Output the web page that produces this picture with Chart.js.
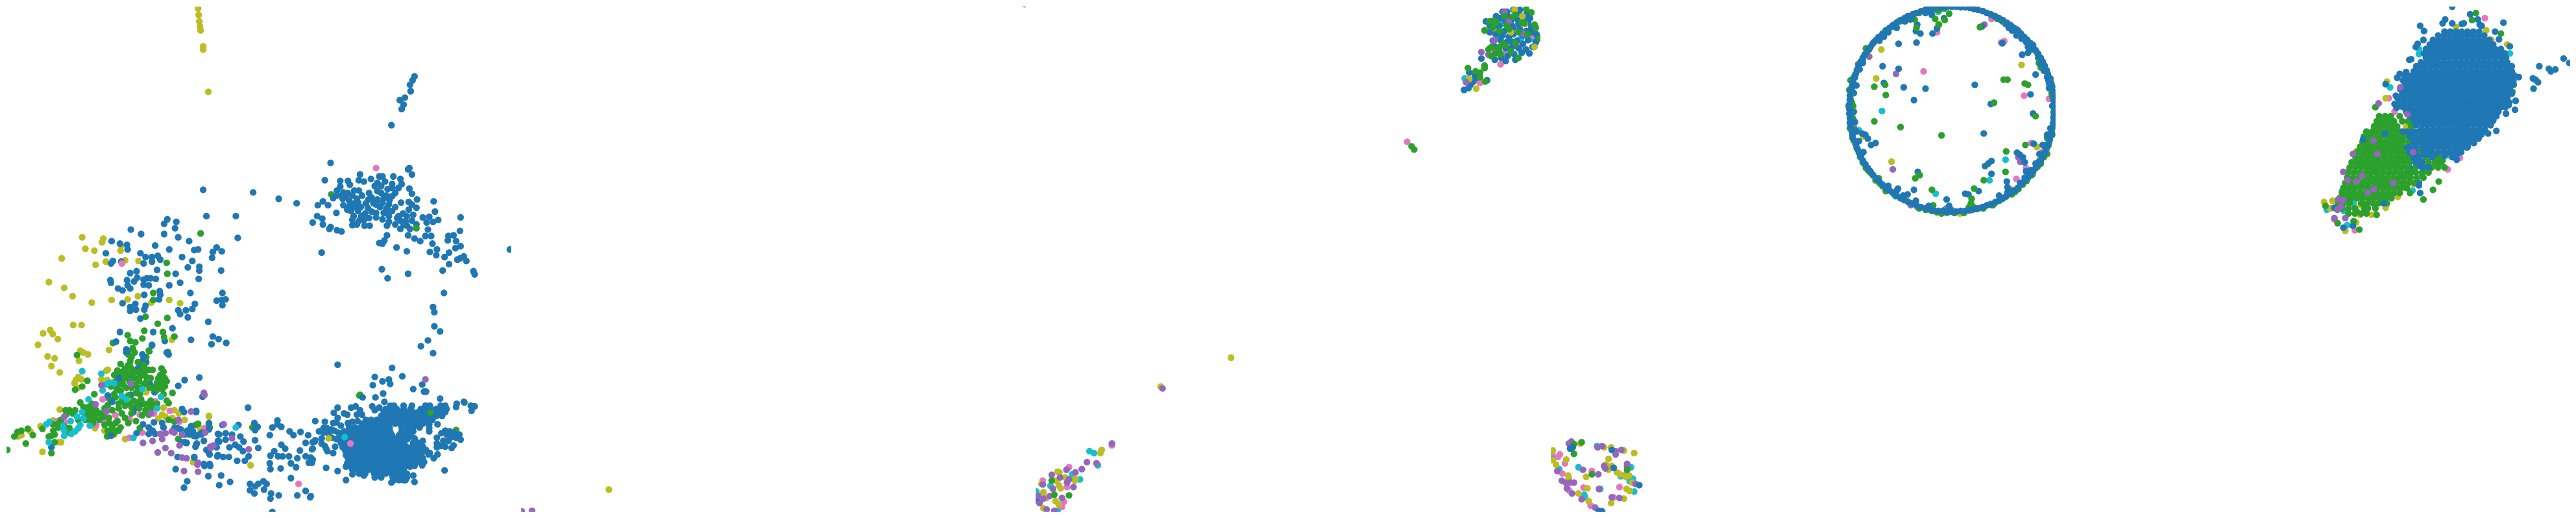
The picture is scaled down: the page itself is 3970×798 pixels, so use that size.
<!DOCTYPE html>
<html>
<head>
<meta charset="utf-8">
<title>Scatter panels</title>
<script src="https://cdn.jsdelivr.net/npm/chart.js@4"></script>
<style>
  html, body { margin: 0; padding: 0; background: #fff; width: 3970px; height: 798px; overflow: hidden; }
  canvas { position: absolute; top: 5px; }
</style>
</head>
<body>
<script>
// values, as flat x,y lists in the shared embedding units

// panel 1
const purple1 = [95,645,144,626,153,596,199,594,161,637,293,637,313,608,273,650,218,686,233,683,248,680,245,672,253,671,263,668,267,670,279,673,253,694,275,690,241,701,262,702,279,709,286,710,315,670,323,692,304,717,230,640,303,720,304,731,282,730,659,587,314,611,344,657,383,696,357,679,324,694,328,690]
const cyan1 = [123,574,133,618,71,685,153,578,160,595,165,592,155,604,173,593,185,613,192,618,217,602,246,614,240,632,67,657,72,653,95,667,95,675,93,660,106,672,112,668,117,663,120,658,105,652,115,645,125,648,123,638,135,659,203,678,363,662,533,677]
const pinkLow1 = [185,406,542,687]
const oliveLow1 = [508,679]
const greenLow1 = [667,639,645,351]
const blue1 = [642,114,639,120,635,127,636,137,627,147,619,151,625,158,622,165,606,190,
511,249,634,257,632,259,638,267,557,267,502,276,526,277,538,277,555,276,563,278,574,274,587,270,592,270,609,270,620,274,607,282,622,282,541,283,526,286,584,280,634,289,521,292,531,295,538,296,555,292,571,296,584,293,607,288,617,288,638,297,535,301,515,304,570,306,584,306,594,304,607,301,646,306,633,310,621,311,499,309,491,315,507,315,531,315,541,316,554,311,569,319,582,314,592,311,602,314,638,314,672,309,645,319,520,327,543,324,554,324,582,327,594,327,607,324,674,325,490,332,547,332,559,332,582,334,592,337,602,332,617,332,630,332,655,334,665,333,714,334,498,336,679,338,556,339,620,339,638,339,483,342,602,341,661,342,671,341,499,345,545,346,564,347,572,347,630,347,599,347,511,349,509,352,620,352,635,352,521,354,528,356,663,353,713,355,599,362,632,362,659,363,668,363,695,363,703,362,642,367,651,371,595,370,694,370,707,371,587,374,592,375,670,375,614,381,714,379,677,384,706,382,630,387,666,388,696,389,497,389,676,393,689,396,719,395,713,398,709,400,723,402,696,407,686,417,591,415,632,422,600,429,734,418,736,423,791,384,
545,300,552,305,560,300,566,312,575,303,578,312,590,296,598,300,588,318,598,320,575,325,565,328,550,318,540,308,548,312,558,318,530,305,537,322,545,338,552,345,563,338,571,335,603,325,612,318,615,335,624,328,628,340,640,330,633,322,612,345,645,345,625,345,590,285,600,290,580,285,596,278,612,296,528,300,520,300,548,292,603,307,
688,452,671,474,673,482,673,504,682,512,663,526,652,535,671,546,522,564,607,569,
312,291,390,295,430,305,458,312,317,332,363,332,366,366,256,337,251,344,270,341,268,351,199,353,215,360,251,360,273,365,290,371,169,371,182,375,193,377,194,384,237,378,259,384,298,385,304,384,333,381,327,388,341,387,160,390,214,390,222,396,232,396,241,394,245,400,279,396,295,402,326,397,171,402,168,406,184,403,219,406,232,403,306,411,288,412,306,417,340,417,240,416,208,418,198,421,269,422,209,428,224,429,305,430,167,432,193,432,204,434,219,431,230,429,238,430,168,436,276,436,194,440,219,439,227,440,259,440,179,445,186,448,198,445,244,449,292,452,342,452,220,455,245,455,243,462,333,464,341,463,347,462,299,469,342,471,186,468,206,469,222,472,220,478,198,474,207,478,198,480,273,479,285,479,295,477,276,485,288,490,214,492,320,497,264,507,182,513,234,513,327,520,293,525,336,524,325,532,348,530,176,528,232,534,258,548,255,545,193,543,219,551,
283,588,273,597,306,584,311,614,301,636,279,633,282,638,321,655,163,612,170,622,180,585,235,654,248,655,218,657,227,662,233,667,237,672,227,672,208,671,250,662,267,663,272,663,277,665,287,667,293,660,290,673,297,675,305,673,310,670,313,683,302,687,300,692,283,685,278,685,286,686,335,672,335,683,333,693,317,697,322,704,335,705,272,708,298,708,313,719,322,719,75,693,168,675,
382,631,301,638,321,656,321,665,342,658,367,658,392,655,397,661,393,666,428,651,428,657,420,662,434,661,447,668,453,674,464,669,476,674,416,674,486,684,472,686,482,696,393,682,370,676,375,684,357,673,347,671,337,673,337,684,347,681,362,689,353,693,368,693,398,694,374,699,434,689,440,695,423,699,417,706,429,707,436,707,446,707,459,710,463,698,472,707,480,709,477,717,449,718,457,724,416,718,417,727,433,726,321,702,334,707,343,708,352,708,365,714,377,714,383,707,449,741,406,746,411,750,398,750,385,750,393,754,385,760,392,765,407,759,418,765,430,768,417,773,459,768,472,761,479,771,420,794,269,727,287,746,282,756,320,738,340,737,337,752,354,747,314,722,323,722,298,709,301,689,286,686,301,676,309,673,296,668,283,673,
580,583,592,590,602,587,604,594,577,596,623,582,654,595,640,602,657,606,660,606,593,609,581,615,561,615,682,617,595,622,522,631,543,631,550,629,576,629,587,631,557,635,516,639,532,640,537,642,552,642,560,642,580,635,522,647,487,652,502,653,515,655,520,654,538,655,545,653,553,652,527,659,493,668,500,663,505,663,512,665,517,667,500,670,508,672,497,679,487,682,483,685,497,687,502,691,504,695,483,695,506,699,515,702,518,692,520,680,513,678,483,712,482,717,504,725,522,730,535,723,535,744,545,735,563,737,555,733,537,718,535,705,530,693,527,682,523,670,480,769,
604,628,610,628,625,628,638,628,659,628,666,628,683,628,690,628,597,633,606,633,614,633,625,633,636,633,652,633,660,633,667,633,676,633,684,633,691,633,594,638,603,638,612,638,621,638,630,638,640,638,648,638,657,638,665,638,673,638,682,638,690,638,590,644,598,644,607,644,616,644,625,644,634,644,643,644,651,644,660,644,668,644,676,644,685,644,
566,650,574,650,583,650,592,650,600,650,610,650,619,650,627,650,636,650,645,650,654,650,662,650,670,650,560,656,568,656,577,656,586,656,594,656,603,656,612,656,620,656,629,656,638,656,646,656,655,656,664,656,
540,662,549,662,558,662,567,662,576,662,585,662,594,662,603,662,622,662,631,662,640,662,650,662,532,668,541,668,550,668,559,668,568,668,577,668,586,668,595,668,604,668,622,668,631,668,640,668,526,674,535,674,544,674,553,674,562,674,571,674,580,674,589,674,598,674,607,674,618,674,627,674,636,674,532,680,541,680,550,680,559,680,568,680,577,680,586,680,595,680,604,680,613,680,622,680,631,680,642,680,527,686,536,686,545,686,554,686,563,686,572,686,581,686,590,686,599,686,608,686,617,686,626,686,640,686,648,686,
530,692,539,692,548,692,557,692,566,692,575,692,584,692,593,692,602,692,611,692,620,692,629,692,638,692,647,692,655,692,534,698,543,698,552,698,561,698,570,698,579,698,588,698,597,698,606,698,615,698,624,698,633,698,642,698,651,698,660,698,536,704,545,704,554,704,563,704,572,704,581,704,590,704,599,704,608,704,617,704,626,704,635,704,644,704,653,704,664,704,538,710,547,710,556,710,565,710,574,710,583,710,592,710,601,710,610,710,619,710,628,710,637,710,646,710,655,710,541,716,550,716,559,716,568,716,577,716,586,716,595,716,604,716,613,716,622,716,631,716,640,716,649,716,657,716,
540,722,549,722,558,722,567,722,576,722,585,722,594,722,603,722,612,722,621,722,630,722,545,728,553,728,562,728,571,728,580,728,589,728,598,728,607,728,616,728,625,728,556,734,565,734,579,734,588,734,597,734,606,734,615,734,624,734,630,734,580,740,590,740,608,740,618,740,627,740,630,740,610,744,618,744,625,744,628,744,
606,748,642,747,640,737,635,723,642,722,654,721,689,729,672,710,678,704,666,702,660,697,655,683,642,679,633,670,
678,657,665,657,665,668,665,663,684,671,690,667,697,668,703,670,712,673,693,673,700,677,707,678,714,681,677,678,687,683,695,683,703,690,700,694,690,692,683,691,677,693,677,687,708,625,707,630,719,622,730,628,736,629,731,636,692,633]
const green1 = [200,552,198,558,197,563,183,563,190,570,200,570,178,573,185,575,193,577,173,580,182,582,190,585,205,585,213,583,220,577,227,572,233,572,218,570,223,552,227,542,202,538,223,583,230,585,250,575,245,580,242,585,255,590,252,598,245,597,238,598,233,600,248,602,240,603,264,608,187,595,180,595,192,600,177,603,183,605,173,610,210,600,207,608,213,610,200,600,203,620,208,623,197,625,230,620,227,625,235,628,258,624,163,627,158,632,180,632,185,640,142,610,131,589,123,598,112,603,120,623,
195,565,205,575,212,590,220,595,197,590,205,595,175,590,168,598,185,590,215,600,222,592,228,600,240,592,247,590,252,585,247,570,190,578,198,578,175,615,185,620,195,612,180,625,170,635,190,628,215,618,220,625,212,632,222,635,230,632,240,625,200,640,195,655,175,655,180,667,172,672,165,655,150,650,128,640,125,630,138,625,145,635,152,640,128,650,140,655,98,642,108,640,90,650,78,657,95,660,75,675,250,610,255,620,200,630,165,617,205,545,195,548,210,560,220,565,212,575,
97,635,103,635,112,635,100,638,127,632,133,630,140,633,132,638,138,640,147,640,133,645,142,648,135,652,157,645,165,647,117,650,87,655,86,662,78,667,80,673,71,676,61,664,103,663,102,670,158,658,170,660,170,665,177,667,163,667,183,662,178,652,190,647,207,652,217,643,227,642,258,650,267,653,300,658,304,656,213,663,273,680,322,662,162,676,80,685,75,702,35,687,46,674,38,664,28,667,22,669,17,676,6,697,
255,405,256,422,234,452,234,463,222,489,256,491,241,500,220,511,249,513,194,518,251,521,217,523,267,520,171,530,198,527,206,529,202,540,228,543,257,544,115,549,
512,298,308,359,557,611,720,623,707,666,556,612,389,662]
const blueTop1 = [213,563,217,558,223,560,210,570,208,575,213,567,192,540,192,545,217,548,232,533,252,527,257,547,229,594,236,607,199,611,202,633,203,638,213,627,198,580,178,597,205,632]
const pink1 = [77,657,96,654,85,652,155,618,163,633,175,643,197,649,145,658,157,653,197,678,237,621,260,636,217,670,275,653,315,663,213,642,235,640,582,257,461,750,692,679]
const olive1 = [123,365,156,367,154,373,184,378,128,383,142,386,183,386,91,398,190,401,160,403,211,402,144,408,71,435,95,444,108,457,138,467,169,463,194,462,210,457,259,463,276,468,231,467,109,502,122,502,73,510,77,516,62,515,85,524,54,533,263,525,165,541,120,542,125,545,132,548,69,551,80,554,75,566,118,558,88,576,
304,8,305,18,306,28,307,36,308,42,312,67,312,72,320,138,
117,583,122,587,113,588,111,593,116,600,153,587,162,588,163,572,161,573,169,592,223,607,223,633,242,648,253,645,248,642,264,647,274,640,283,650,321,644,143,663,158,667,163,672,173,673,190,680,267,635,296,716,250,631,307,663,23,676,28,674,42,668,58,660,87,685,90,685,61,700,88,634,78,651,321,645,386,721]

// panel 2
const purple2 = [799,793,815,792]
const olive2 = [935,759]
const blue2 = [1584,1]

// panel 3
const green3 = [2292,42,2306,27,2302,82,2317,80,2357,9,2365,14,2323,20,2335,21,2327,35,2354,31,2370,33,2372,38,2359,48,2320,63,2313,70,2333,75,2303,68,2378,55,2315,43,2292,97,2292,101,2266,101,2278,106,2285,108,2285,115,2293,122,2178,223,2182,228,1616,745,1620,767,1643,768,
2345,45,2330,40,2310,30,2300,28,2340,18,2350,30,2315,75,2325,65,2340,62,2345,85,2310,78,2298,72,2305,38]
const blue3 = [2294,28,2300,35,2308,35,2320,13,2327,13,2337,10,2347,10,2357,17,2317,23,2333,27,2343,25,2353,23,2363,23,2323,43,2320,50,2317,57,2327,60,2337,38,2347,40,2337,48,2357,43,2360,57,2352,63,2367,68,2357,72,2350,77,2338,79,2328,82,2318,85,2308,88,2307,67,2373,48,2287,86,2296,120,2268,108,2277,112,2280,113,2270,127,2267,132,2260,135,2273,123,2278,117,1593,776,
2310,20,2315,35,2325,28,2335,35,2345,32,2352,50,2343,58,2335,60,2330,52,2325,70,2335,68,2345,70,2365,38,2360,30,2345,15,2328,20,2310,48,2305,58,2315,68,2325,90,2340,88,2365,45,2372,60,2375,52,2362,78,2300,45]
const purple3 = [2287,76,2298,80,2308,76,2307,58,2330,28,2352,47,2323,13,2263,123,1789,601,1710,687,1671,716,1686,718,1663,727,1639,728,1653,732,1616,736,1643,743,1640,748,1629,740,1602,751,1650,755,1618,758,1613,769,1632,772,1595,769,1597,780,1608,790,1620,792,1603,773]
const olive3 = [2339,10,2351,20,2333,45,2355,32,2301,69,2370,68,2268,118,2279,133,1786,598,1896,553,1692,702,1694,697,1625,731,1628,732,1653,742,1652,745,1623,745,1637,740,1627,752,1630,757,1600,750,1603,763,1608,772,1622,777,1627,782,1603,788]
const pink3 = [2323,79,2341,64,2317,95,2348,68,2372,61,2368,50,2307,47,2277,121,2285,124,2171,216,1710,690,1643,724,1602,745,1640,755,1635,778,1632,786]
const cyan3 = [2319,32,2349,54,2313,52,2365,55,2261,117,1675,699,1682,702,1688,721,1648,735,1660,743,1614,753,1592,762,1625,792]

// panel 4
const green4 = [2433,685,2421,688,2421,703,2449,735,2504,728,
2995,206,2931,193,2890,184,2908,143,2907,127,2890,130,3092,119,3098,119,3125,125,3130,127,3077,155,3142,176,3126,221,3096,231,3095,263,3061,276,3046,289,2980,291,2954,273,2961,268,2982,315,3055,37,2956,38,2985,24,3000,26,3007,16,2991,33,3115,43,3147,93,3143,75,3042,305,3041,312,3038,318,3035,323,3138,263,3137,267,3160,210,3163,217,3115,290,3090,305,3073,315,2860,198,
2855,132,2853,143,2855,155,2852,168,2858,169,2852,187,2878,77,2875,80,2860,112,2872,248,2877,257,2888,268,2897,273,2903,285,2960,15,2967,12,2987,10,2992,10,2953,25,2938,25,3045,8,3073,18,3150,87,3153,92,3165,118,3168,145,2988,326,3043,322,3128,277,
2858,125,2857,160,2857,180,2870,235,2880,260,2885,265,2908,293,2877,70,2872,88,2865,95,2855,165,2960,320,2995,328,3030,327,3045,318,3085,308,3105,298,3130,272,3150,250,3160,235,3167,140,3150,100,3140,72,3090,28,3040,5,3000,8,2975,8,2950,20,2930,28,
2853,120,2851,135,2853,150,2850,160,2853,175,2852,195,2856,210,2864,228,2868,240,2874,250,2882,262,2892,276,2900,282,2912,292,2922,298,2935,305,2948,312,2970,322,2980,324,3000,326,3015,327,3050,321,3060,320,3078,312,3095,302,3110,294,3122,282,3135,268,3145,255,3155,240,3162,222,3168,205,3170,170,3171,150,3168,130,3160,108,3155,98,3145,78,3125,55,3100,36,3082,24,3060,12,2982,8,2945,22,2920,36,2905,48,2890,60,2882,72,2868,92]
const blue4 = [2415,695,2419,693,2483,725,2523,752,2460,792,2465,793,2480,697,
3011,5,3018,5,3025,6,3032,6,3039,7,3046,9,3052,10,3059,12,3066,15,3072,17,3079,20,3085,23,3091,26,3097,30,3103,34,3108,38,3114,42,3119,47,3124,52,3129,57,3134,62,3138,68,3142,73,3146,79,3150,85,3153,91,3156,97,3159,104,3161,110,3164,117,3166,124,3167,130,3169,137,3170,144,3170,151,3171,158,3171,165,
3171,172,3170,179,3170,186,3169,193,3167,200,3166,206,3164,213,3161,220,3159,226,3156,233,3153,239,3150,245,3146,251,3142,257,3138,262,3134,268,3129,273,3124,278,3119,283,3114,288,3108,292,3103,296,3097,300,3091,304,3085,307,3079,310,3072,313,3066,315,3059,318,3052,320,3046,321,3039,323,3032,324,3025,324,3018,325,3011,325,
3004,325,2997,324,2990,324,2983,323,2976,321,2970,320,2963,318,2956,315,2950,313,2943,310,2937,307,2931,304,2925,300,2919,296,2914,292,2908,288,2903,283,2898,278,2893,273,2888,268,2884,262,2880,257,2876,251,2872,245,2869,239,2866,233,2863,226,2861,220,2858,213,2856,206,2855,200,2853,193,2852,186,2852,179,2851,172,2851,165,
2851,158,2852,151,2852,144,2853,137,2855,130,2856,124,2858,117,2861,110,2863,104,2866,97,2869,91,2872,85,2876,79,2880,73,2884,68,2888,62,2893,57,2898,52,2903,47,2908,42,2914,38,2919,34,2925,30,2931,26,2937,23,2943,20,2950,17,2956,15,2963,12,2970,10,2976,9,2983,7,2990,6,2997,6,3004,5,
3088,26,3100,38,3112,50,3120,55,3127,60,3135,72,3150,95,3155,105,3160,115,3163,125,3160,205,3155,222,3148,235,3142,250,3135,260,3130,270,3125,272,3118,280,3105,293,3098,295,3085,300,2912,285,2925,292,2935,300,2955,308,2975,316,2872,93,2867,103,2860,115,2862,128,2857,170,2860,185,2862,200,2866,215,2873,232,2898,58,2905,52,2912,45,2925,38,2938,28,2946,25,2970,15,2978,13]
const blueInner4 = [2928,63,2956,61,2903,98,2928,102,2905,124,2936,131,2970,133,2952,151,3047,127,3072,157,3061,203,3142,111,3134,142,3138,172,3121,80,3130,77,3090,62,2880,211,2876,205,2871,203,2885,221,2892,218,2958,263,2927,289,2952,291,3003,306,3007,316,3032,297,3037,298,3053,293,3063,254,3068,250,3073,246,3073,266,3097,278,3098,287,2942,298,3113,233,3117,236,3122,240,3125,248,3127,262,3139,219,3153,221,3148,246,3163,212,2957,33,2955,43,2962,47,2980,18,2999,23,2988,39,2981,47,3058,36,3130,68,3138,65,3105,42,3163,132,2858,140,2852,150,2853,180,2863,104,3095,32,3112,44,3135,65,3146,85,3162,120,3168,160,3165,195,3015,325,3075,315]
const purple4 = [2413,687,2417,684,2458,693,2465,691,2495,697,2486,699,2486,704,2468,722,2470,726,2504,719,2504,723,2435,728,2459,735,2395,730,2402,745,2408,748,2415,748,2421,748,2410,757,2418,765,2433,774,2460,758,2480,771,2492,772,2454,787,2517,750,
2924,110,2919,259,2896,53,2882,83,2942,20,3062,33,3078,21,3167,127,2868,238,2882,262,3118,247,3115,240,2858,193,3170,177,3003,320,3010,322,2947,315]
const olive4 = [2431,687,2468,693,2479,693,2499,698,2515,702,2475,711,2480,722,2475,728,2440,739,2409,712,2388,698,2388,713,2393,720,2412,737,2413,742,2428,765,2442,757,2444,777,2479,780,2499,773,2503,758,2508,761,2488,732,2493,735,2502,739,2507,737,2512,748,2471,720,
2901,72,2893,117,3120,96,2917,247,3144,224,2886,65,2890,60,2927,28,2856,123,2856,207,2858,215,2862,225,2873,208,2896,279,2940,306,2973,322,3017,326,3024,328,3103,290,3122,283,3150,242,2990,32,3113,45]
const pink4 = [2387,702,2399,704,2396,708,2407,718,2403,734,2449,730,2436,756,2413,760,2492,755,2447,784,2503,734,2483,771,
2967,106,3088,61,3093,59,3124,144,3112,274,3135,218,3159,228,3152,232,3155,238,3127,257,2970,10,3073,24,3058,319,2988,45,3167,145,3163,149,3112,40,2957,318]
const cyan4 = [2428,724,2457,691,2462,758,2437,767,2438,771,2510,724,2494,738,2513,742,2508,746,2515,762,2398,727,2387,707,
2902,168,3095,244,3070,276,2986,297,2866,198,2857,211,2923,301,3004,327,3063,317,3132,62,2922,33,2865,100,2858,115,2990,13,3165,117,3169,187,3000,322]

// panel 5
const purple5 = [3659,214,3627,235,3612,263,3641,269,3632,278,3619,276,3604,306,3612,307,3608,317,3603,322,3615,335,3598,335,3660,290,3721,232,3701,131,3667,156,3712,173,3650,295,3690,280,3665,235]
const blue5 = [3782,5,3810,17,3771,25,3767,31,3782,31,3797,32,3800,31,3822,25,3825,33,3828,35,3862,30,3732,35,3738,43,3849,44,3737,57,3855,56,3728,63,3725,68,3715,88,3718,87,3726,98,3872,67,3875,98,3918,98,3933,102,3936,106,3943,103,3956,86,3965,93,3908,117,3912,119,3916,123,3909,133,3886,115,3878,112,3881,152,3880,166,3870,159,3866,172,3851,199,3838,203,3824,208,3789,244,3806,224,3730,284,3732,296,3675,312,3710,107,3700,110,3696,116,3678,126,3694,144,3692,157,3695,163,3643,212,3598,319,
3732,253,3738,237,3627,347,3612,350,3677,203,3747,237,
3705,200,3712,200,3722,200,3730,200,3716,208,3724,208,3735,208,3722,216,3730,216,3738,216,3715,224,3725,224,3735,224,3745,224,3715,232,3725,232,3738,232,3750,232,3722,240,3730,240,3750,240,3725,248,3735,248,3735,256,3745,256,3755,235,3790,235,3745,228,3782,240,3770,238,
3770,44,3779,44,3788,44,3797,44,3806,44,3815,44,3824,44,3760,50,3769,50,3778,50,3787,50,3796,50,3805,50,3814,50,3823,50,3832,50,
3752,57,3761,57,3770,57,3779,57,3788,57,3797,57,3806,57,3815,57,3824,57,3833,57,3840,57,3747,64,3756,64,3765,64,3774,64,3783,64,3792,64,3801,64,3810,64,3819,64,3828,64,3837,64,3846,64,
3741,71,3750,71,3759,71,3768,71,3777,71,3786,71,3795,71,3804,71,3813,71,3822,71,3831,71,3840,71,3849,71,3858,71,3738,78,3747,78,3756,78,3765,78,3774,78,3783,78,3792,78,3801,78,3810,78,3819,78,3828,78,3837,78,3846,78,3855,78,3864,78,
3741,85,3750,85,3759,85,3768,85,3777,85,3786,85,3795,85,3804,85,3813,85,3822,85,3831,85,3840,85,3849,85,3858,85,3866,85,3733,92,3742,92,3751,92,3760,92,3769,92,3778,92,3787,92,3796,92,3805,92,3814,92,3823,92,3832,92,3841,92,3850,92,3859,92,3868,92,
3730,99,3739,99,3748,99,3757,99,3766,99,3775,99,3784,99,3793,99,3802,99,3811,99,3820,99,3829,99,3838,99,3847,99,3856,99,3865,99,3872,99,3722,106,3731,106,3740,106,3749,106,3758,106,3767,106,3776,106,3785,106,3794,106,3803,106,3812,106,3821,106,3830,106,3839,106,3848,106,3857,106,3866,106,3875,106,
3708,113,3717,113,3726,113,3735,113,3744,113,3753,113,3762,113,3771,113,3780,113,3789,113,3798,113,3807,113,3816,113,3825,113,3834,113,3843,113,3852,113,3861,113,3870,113,3879,113,3705,120,3714,120,3723,120,3732,120,3741,120,3750,120,3759,120,3768,120,3777,120,3786,120,3795,120,3804,120,3813,120,3822,120,3831,120,3840,120,3849,120,3858,120,3867,120,3876,120,
3708,127,3717,127,3726,127,3735,127,3744,127,3753,127,3762,127,3771,127,3780,127,3789,127,3798,127,3807,127,3816,127,3825,127,3834,127,3843,127,3852,127,3861,127,3870,127,3878,127,3701,134,3710,134,3719,134,3728,134,3737,134,3746,134,3755,134,3764,134,3773,134,3782,134,3791,134,3800,134,3809,134,3818,134,3827,134,3836,134,3845,134,3854,134,3863,134,3872,134,
3704,141,3713,141,3722,141,3731,141,3740,141,3749,141,3758,141,3767,141,3776,141,3785,141,3794,141,3803,141,3812,141,3821,141,3830,141,3839,141,3848,141,3857,141,3866,141,3875,141,3697,148,3706,148,3715,148,3724,148,3733,148,3742,148,3751,148,3760,148,3769,148,3778,148,3787,148,3796,148,3805,148,3814,148,3823,148,3832,148,3841,148,3850,148,3859,148,3868,148,
3700,155,3709,155,3718,155,3727,155,3736,155,3745,155,3754,155,3763,155,3772,155,3781,155,3790,155,3799,155,3808,155,3817,155,3826,155,3835,155,3844,155,3853,155,3862,155,3871,155,3696,162,3705,162,3714,162,3723,162,3732,162,3741,162,3750,162,3759,162,3768,162,3777,162,3786,162,3795,162,3804,162,3813,162,3822,162,3831,162,3840,162,3849,162,3858,162,3865,162,
3710,169,3719,169,3728,169,3737,169,3746,169,3755,169,3764,169,3773,169,3782,169,3791,169,3800,169,3809,169,3818,169,3827,169,3836,169,3845,169,3854,169,3716,176,3725,176,3734,176,3743,176,3752,176,3761,176,3770,176,3779,176,3788,176,3797,176,3806,176,3815,176,3824,176,3833,176,3842,176,3851,176,
3722,183,3731,183,3740,183,3749,183,3758,183,3767,183,3776,183,3785,183,3794,183,3803,183,3812,183,3821,183,3830,183,3839,183,3846,183,3726,190,3735,190,3744,190,3753,190,3762,190,3771,190,3780,190,3789,190,3798,190,3807,190,3816,190,3825,190,3834,190,3842,190,
3734,197,3743,197,3752,197,3761,197,3770,197,3779,197,3788,197,3797,197,3806,197,3815,197,3824,197,3833,197,3738,204,3747,204,3756,204,3765,204,3774,204,3783,204,3792,204,3801,204,3810,204,3819,204,3828,204,
3742,211,3751,211,3760,211,3769,211,3778,211,3787,211,3796,211,3805,211,3814,211,3823,211,3745,218,3754,218,3763,218,3772,218,3781,218,3790,218,3799,218,3808,218,3816,218,3752,225,3761,225,3770,225,3779,225,3788,225,3797,225,3805,225,3760,232,3769,232,3778,232,3787,232,3796,232]
const green5 = [3668,176,3677,176,3686,176,3700,176,3664,184,3673,184,3682,184,3691,184,3704,184,3713,184,3660,192,3669,192,3678,192,3687,192,3696,192,3718,192,3648,200,3657,200,3666,200,3675,200,3684,200,3693,200,3702,200,3720,200,3644,208,3653,208,3662,208,3671,208,3680,208,3689,208,3698,208,3707,208,3730,208,3642,216,3651,216,3660,216,3669,216,3678,216,3687,216,3696,216,3705,216,3714,216,3638,224,3647,224,3656,224,3665,224,3674,224,3683,224,3692,224,3701,224,3740,224,3634,232,3643,232,3652,232,3661,232,3670,232,3679,232,3688,232,3697,232,3706,232,3730,232,3745,232,
3716,208,3722,216,3725,224,3720,240,3725,248,3718,264,3730,248,
3631,240,3640,240,3649,240,3658,240,3667,240,3676,240,3685,240,3694,240,3703,240,3712,240,3740,240,3755,240,3763,240,3625,248,3634,248,3643,248,3652,248,3661,248,3670,248,3679,248,3688,248,3697,248,3706,248,3715,248,3745,248,3755,248,3765,248,3622,256,3631,256,3640,256,3649,256,3658,256,3667,256,3676,256,3685,256,3694,256,3703,256,3712,256,3725,256,3740,256,3750,256,3760,256,3770,256,
3620,264,3629,264,3638,264,3647,264,3656,264,3665,264,3674,264,3683,264,3692,264,3701,264,3710,264,3725,264,3735,264,3745,264,3618,272,3627,272,3636,272,3645,272,3654,272,3663,272,3672,272,3681,272,3690,272,3699,272,3708,272,3717,272,3727,272,3737,272,3615,280,3624,280,3633,280,3642,280,3651,280,3660,280,3669,280,3678,280,3687,280,3696,280,3705,280,3714,280,3723,280,
3612,288,3621,288,3630,288,3639,288,3648,288,3657,288,3666,288,3675,288,3684,288,3693,288,3702,288,3711,288,3610,296,3619,296,3628,296,3637,296,3646,296,3655,296,3664,296,3673,296,3682,296,3691,296,3700,296,3716,296,3606,304,3615,304,3624,304,3633,304,3642,304,3651,304,3660,304,3669,304,3678,304,3687,304,3604,312,3613,312,3622,312,3640,312,3649,312,3658,312,3667,312,3680,312,3600,320,3610,320,3620,320,3630,320,3645,320,3650,320,3662,320,3620,328,3630,328,3640,328,3648,328,
3819,15,3813,26,3858,47,3817,69,3847,131,3876,138,3828,168,3819,184,3842,188,3797,193,3767,200,3662,162,3834,141,3761,278,3752,291,3737,306,3664,330,3637,353,3770,222,3767,245,3760,246,3584,316,3603,343,3628,340,3633,325,3650,320]
const blueTop5 = [3670,250,3722,238,3673,273,3717,257,3702,268,3675,287,3640,250,3660,262,3690,250,3710,225,3700,212,3680,225,3650,225,3660,205,3625,300,3650,295,3668,280,3695,275,3640,285,3620,310,3735,265,3730,280,3705,205,3670,190,3680,180,3638,297]
const olive5 = [3799,68,3803,74,3772,113,3765,119,3765,126,3822,116,3769,186,3835,42,3843,57,3843,61,3868,64,3788,37,3680,122,3678,148,
3710,193,3658,203,3650,215,3693,229,3701,234,3643,234,3632,231,3650,248,3619,262,3684,260,3684,269,3722,282,3708,287,3640,307,3639,315,3595,308,3582,310,3592,320,3638,330,3656,330,3678,319,3632,342,3615,355,3697,302,3748,257,3747,223,3645,283,3665,215,3700,220,3685,250,3625,285,3660,275,3710,265]
const pink5 = [3833,23,3841,93,3815,122,3781,182,3692,169,3802,214,3794,241,3683,148,3775,259,3845,177,3696,240,3676,232,3715,235,3666,242,3703,203,3598,337,3630,354,3657,308,3677,237,3707,282,3721,227,3723,247,3670,220,3690,210,3700,258,3650,270,3620,290]
const cyan5 = [3811,60,3872,78,3730,71,3730,79,3685,131,3878,121,3790,156,3753,237,3775,237,3692,196,3683,212,3723,221,3654,264,3683,287,3663,302,3628,312,3613,324,3586,322,3618,346,3610,293,3720,292,3662,228,3670,265,3700,245]

const tabBlue = "#1f77b4"
const tabGreen = "#2ca02c"
const tabPurple = "#9467bd"
const tabPink = "#e377c2"
const tabOlive = "#bcbd22"
const tabCyan = "#17becf"

// left edge of each panel, and the layers of each one, bottom to top
const panelLefts = [5, 798, 1591, 2385, 3178]
const panelWidth = 788
const panelTop = 5
const panelHeight = 789

const panelLayers = [
  [[tabPurple, purple1], [tabCyan, cyan1], [tabPink, pinkLow1], [tabOlive, oliveLow1], [tabGreen, greenLow1], [tabBlue, blue1], [tabGreen, green1], [tabBlue, blueTop1], [tabPink, pink1], [tabOlive, olive1]],
  [[tabPurple, purple2], [tabOlive, olive2], [tabBlue, blue2]],
  [[tabGreen, green3], [tabPurple, purple3], [tabOlive, olive3], [tabBlue, blue3], [tabPink, pink3], [tabCyan, cyan3]],
  [[tabBlue, blue4], [tabGreen, green4], [tabBlue, blueInner4], [tabPurple, purple4], [tabOlive, olive4], [tabPink, pink4], [tabCyan, cyan4]],
  [[tabPurple, purple5], [tabBlue, blue5], [tabGreen, green5], [tabBlue, blueTop5], [tabOlive, olive5], [tabPink, pink5], [tabCyan, cyan5]],
]

function toPoints(flat) {
  const points = []
  for (let i = 0; i < flat.length; i += 2) {
    points.push({ x: flat[i], y: flat[i + 1] })
  }
  return points
}

panelLayers.forEach((layers, i) => {
  const canvas = document.createElement("canvas")
  canvas.width = panelWidth
  canvas.height = panelHeight
  canvas.style.left = panelLefts[i] + "px"
  document.body.appendChild(canvas)

  new Chart(canvas, {
    type: "scatter",
    data: {
      datasets: layers.map(([color, flat]) => ({
        data: toPoints(flat),
        backgroundColor: color,
        pointBorderWidth: 0,
        pointRadius: 5.2,
      })),
    },
    options: {
      responsive: false,
      animation: false,
      layout: { padding: 0 },
      scales: {
        x: { type: "linear", display: false, min: panelLefts[i], max: panelLefts[i] + panelWidth },
        y: { type: "linear", display: false, reverse: true, min: panelTop, max: panelTop + panelHeight },
      },
      plugins: { legend: { display: false }, tooltip: { enabled: false } },
    },
  })
})
</script>
</body>
</html>
